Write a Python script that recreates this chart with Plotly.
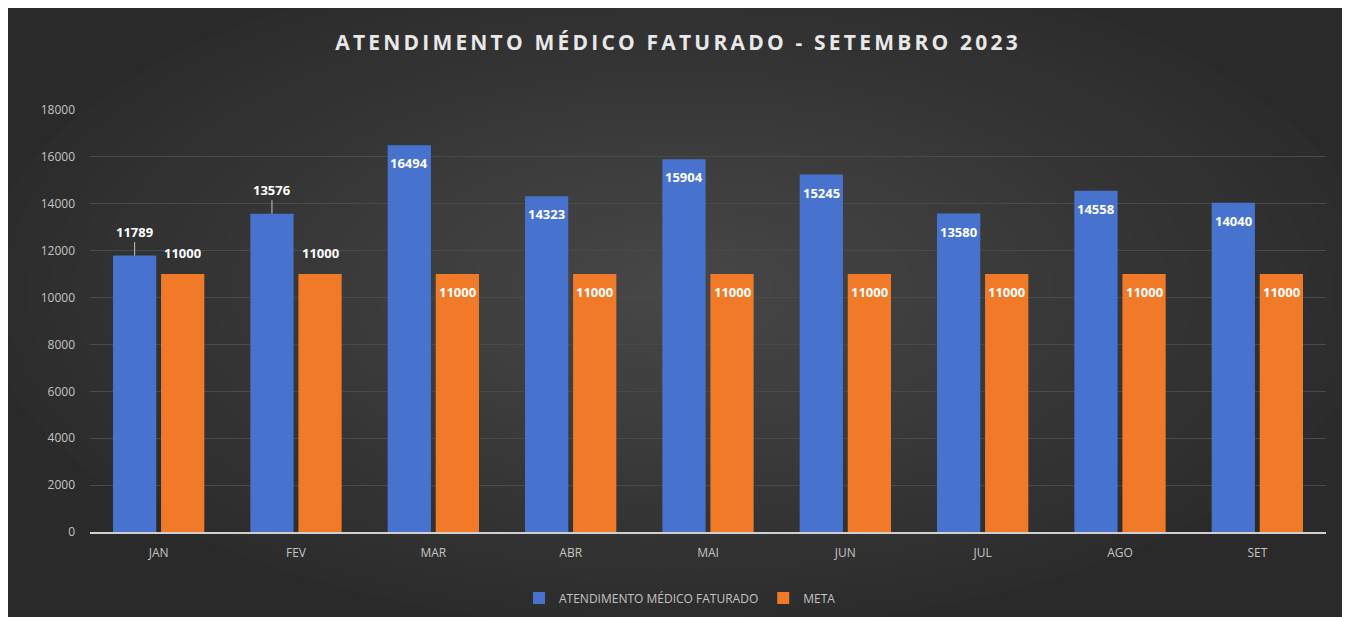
import plotly.graph_objects as go

months = ["JAN", "FEV", "MAR", "ABR", "MAI", "JUN", "JUL", "AGO", "SET"]
atendimento = [11789, 13576, 16494, 14323, 15904, 15245, 13580, 14558, 14040]
meta = [11000, 11000, 11000, 11000, 11000, 11000, 11000, 11000, 11000]
y_ticks = [0, 2000, 4000, 6000, 8000, 10000, 12000, 14000, 16000, 18000]
outside_labels = ["JAN", "FEV"]  # labels drawn above the bars

# page has an 8px body margin; figure coordinates = screen - 8
OX, OY = 8, 8
W, H = 1340, 609
ML, MT = 90 - OX, 110 - OY
PW, PH = 1236, 422
MR = W - ML - PW
MB = H - MT - PH

BLUE = "#4773cf"
ORANGE = "#f07a28"
TXT = "#c4c4c4"
FONT = "Open Sans"


def sx_paper(sx):
    return (sx - OX - ML) / PW


def sy_paper(sy):
    return (H - MB - (sy - OY)) / PH


fig = go.Figure()
fig.add_trace(go.Bar(
    x=months, y=atendimento, name="ATENDIMENTO MÉDICO FATURADO",
    marker=dict(color=BLUE, line=dict(width=0)),
    hoverinfo="x+y",
))
fig.add_trace(go.Bar(
    x=months, y=meta, name="META",
    marker=dict(color=ORANGE, line=dict(width=0)),
    hoverinfo="x+y",
))

bargap, bargroupgap = 0.3, 0.1
cat_px = PW / len(months)
slot_half = cat_px * (1 - bargap) / 4
lab_font = dict(family=FONT, size=13, color="white")

annotations = []
for m, a, t in zip(months, atendimento, meta):
    if m in outside_labels:
        annotations.append(dict(
            x=m, y=a, xref="x", yref="y", text=f"<b>{a}</b>",
            showarrow=True, arrowhead=0, arrowwidth=1, arrowcolor=TXT,
            ax=0, ay=-24, xshift=-slot_half, standoff=0, font=lab_font,
        ))
        annotations.append(dict(
            x=m, y=t, xref="x", yref="y", text=f"<b>{t}</b>",
            showarrow=False, yanchor="bottom", yshift=10, xshift=slot_half,
            font=lab_font,
        ))
    else:
        annotations.append(dict(
            x=m, y=a, xref="x", yref="y", text=f"<b>{a}</b>",
            showarrow=False, yanchor="middle", yshift=-18, xshift=-slot_half,
            font=lab_font,
        ))
        annotations.append(dict(
            x=m, y=t, xref="x", yref="y", text=f"<b>{t}</b>",
            showarrow=False, yanchor="middle", yshift=-18, xshift=slot_half,
            font=lab_font,
        ))

annotations.append(dict(
    x=sx_paper(678), y=sy_paper(42), xref="paper", yref="paper",
    text="<b>ATENDIMENTO MÉDICO FATURADO - SETEMBRO 2023</b>",
    showarrow=False, xanchor="center", yanchor="middle",
    font=dict(family=FONT, size=21, color="#e8e8e8"),
))

# soft radial gradient on the dark panel
shapes = []
cx, cy = 680, 290
steps = 30
for i in range(steps):
    f = 1 - i / steps
    hw, hh = 700 * f, 340 * f
    c = 0x2b + round((0x47 - 0x2b) * (i + 1) / steps)
    shapes.append(dict(type="circle", xref="paper", yref="paper",
                       x0=sx_paper(cx - hw), x1=sx_paper(cx + hw),
                       y0=sy_paper(cy + hh), y1=sy_paper(cy - hh),
                       fillcolor=f"rgb({c},{c},{c})", line=dict(width=0),
                       layer="below"))

fig.update_layout(
    width=W, height=H,
    margin=dict(l=ML, r=MR, t=MT, b=MB, pad=0, autoexpand=False),
    paper_bgcolor="#2a2a2a", plot_bgcolor="rgba(0,0,0,0)",
    barmode="group", bargap=bargap, bargroupgap=bargroupgap,
    shapes=shapes, annotations=annotations,
    font=dict(family=FONT, color=TXT),
    showlegend=True,
    legend=dict(orientation="h", x=sx_paper(680), xanchor="center", y=sy_paper(598),
                yanchor="middle", font=dict(size=12, color=TXT),
                bgcolor="rgba(0,0,0,0)", itemwidth=30, traceorder="normal"),
    xaxis=dict(showgrid=False, showline=True, linecolor="#d0d0d0", linewidth=1.5,
               ticks="", tickfont=dict(size=12, color=TXT), ticklabelstandoff=9,
               zeroline=False, automargin=False),
    yaxis=dict(range=[0, 18000], tickvals=y_ticks, tickformat="d", showgrid=True,
               gridcolor="#4a4a4a", gridwidth=1, zeroline=False, showline=False,
               ticks="", tickfont=dict(size=12, color=TXT), ticklabelstandoff=14,
               automargin=False),
)

post = """
document.querySelectorAll('.annotation-text').forEach(function(e){
  if (e.textContent.indexOf('SETEMBRO') >= 0) { e.style.letterSpacing = '3.2px'; }
});
"""
fig.write_html("out.html", post_script=post)
